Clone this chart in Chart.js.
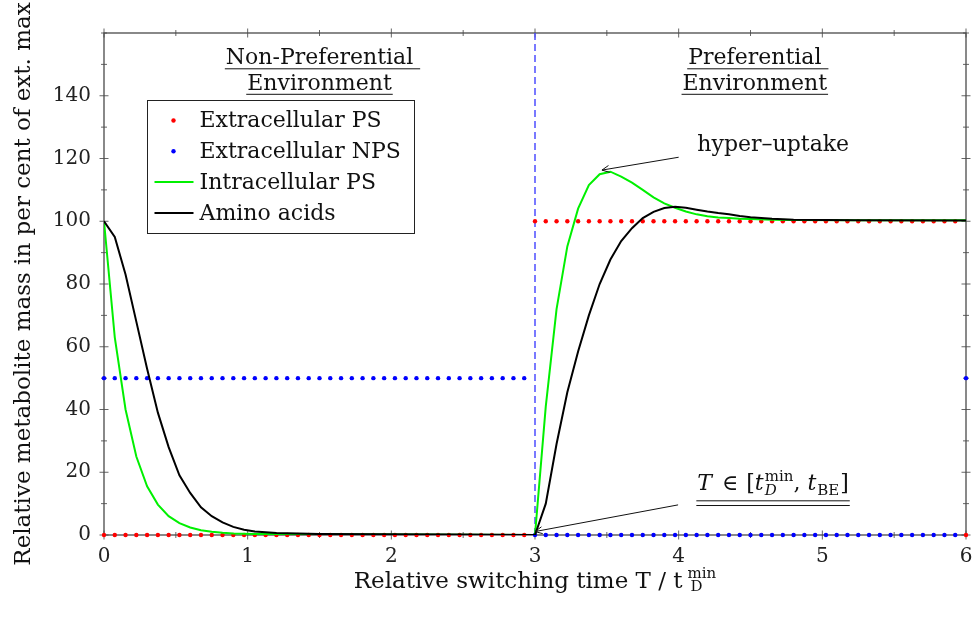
<!DOCTYPE html>
<html>
<head>
<meta charset="utf-8">
<script src="https://cdn.jsdelivr.net/npm/chart.js@4.4.1/dist/chart.umd.min.js"></script>
<style>
  html, body { margin: 0; padding: 0; background: #fff; }
</style>
</head>
<body>
<canvas id="myChart" width="976" height="623"></canvas>
<script>
const FONT = '"DejaVu Serif", serif';

// switching times and the extracellular levels held from each of them on
const switchTimes = [0, 3, 6];
const extPS = [0, 100, 0];
const extNPS = [50, 0, 50];
const markStep = 0.075;

// simulated intracellular pools
const time = [0, 0.075, 0.15, 0.225, 0.3, 0.375, 0.45, 0.525, 0.6, 0.675, 0.75, 0.825, 0.9, 0.975, 1.05, 1.2, 1.5, 2, 2.5, 3,
  3.075, 3.15, 3.225, 3.3, 3.375, 3.45, 3.525, 3.6, 3.675, 3.75, 3.825, 3.9, 3.975, 4.05, 4.125, 4.2, 4.275, 4.35, 4.425, 4.5, 4.65, 4.8, 5.25, 6];
const intracellularPS = [100, 63, 40, 25, 15.5, 9.7, 6, 3.8, 2.4, 1.5, 1.0, 0.7, 0.5, 0.4, 0.35, 0.3, 0.2, 0.15, 0.1, 0,
  41, 72, 92, 104, 111.5, 115, 115.8, 114.2, 112.3, 110, 107.6, 105.7, 104.3, 103.1, 102.2, 101.6, 101.2, 101, 100.8, 100.7, 100.5, 100.4, 100.3, 100.3];
const aminoAcids = [100, 95, 83, 68, 53, 39, 28, 19, 13.4, 8.8, 6.0, 4.0, 2.6, 1.7, 1.1, 0.6, 0.3, 0.2, 0.15, 0,
  10, 29, 45.5, 58.5, 70, 80, 87.8, 93.7, 97.8, 101, 103, 104.2, 104.6, 104.3, 103.7, 103.1, 102.6, 102.2, 101.7, 101.3, 100.8, 100.5, 100.3, 100.2];

const xLabels = [0, 1, 2, 3, 4, 5, 6];
const yLabels = [0, 20, 40, 60, 80, 100, 120, 140];
const yMax = 160;

const heldLevel = (levels) => {
  const pts = [];
  switchTimes.forEach((t0, i) => {
    const t1 = switchTimes[i + 1];
    if (t1 === undefined) {
      pts.push({ x: t0, y: levels[i] });
      return;
    }
    for (let k = 0; t0 + k * markStep < t1 - 1e-9; k++) {
      pts.push({ x: t0 + k * markStep, y: levels[i] });
    }
  });
  return pts;
};
const series = (vals) => time.map((t, i) => ({ x: t, y: vals[i] }));

const arrow = (ctx, x0, y0, x1, y1) => {
  ctx.beginPath();
  ctx.moveTo(x0, y0);
  ctx.lineTo(x1, y1);
  const a = Math.atan2(y1 - y0, x1 - x0);
  [0.45, -0.45].forEach(d => {
    ctx.moveTo(x1, y1);
    ctx.lineTo(x1 - 8 * Math.cos(a + d), y1 - 8 * Math.sin(a + d));
  });
  ctx.stroke();
};

const decorations = {
  id: 'decorations',
  beforeDatasetsDraw(chart) {
    const { ctx, chartArea: ca, scales: { x, y } } = chart;
    ctx.save();
    ctx.strokeStyle = '#666';
    ctx.lineWidth = 1;
    ctx.beginPath();
    x.ticks.forEach(t => {
      const px = x.getPixelForValue(t.value);
      const h = t.label !== '' ? 4.5 : 3;
      ctx.moveTo(px, ca.bottom - h); ctx.lineTo(px, ca.bottom + h);
      ctx.moveTo(px, ca.top - h); ctx.lineTo(px, ca.top + h);
    });
    y.ticks.forEach(t => {
      const py = y.getPixelForValue(t.value);
      const h = t.label !== '' ? 4.5 : 3;
      ctx.moveTo(ca.left - h, py); ctx.lineTo(ca.left + h, py);
      ctx.moveTo(ca.right - h, py); ctx.lineTo(ca.right + h, py);
    });
    ctx.stroke();
    ctx.strokeStyle = '#4a4a4a';
    ctx.lineWidth = 1.3;
    ctx.strokeRect(ca.left, ca.top, ca.right - ca.left, ca.bottom - ca.top);
    ctx.restore();
  },
  afterDatasetsDraw(chart) {
    const { ctx, chartArea: ca, scales: { x, y } } = chart;
    ctx.save();
    ctx.fillStyle = '#111';
    ctx.strokeStyle = '#111';
    ctx.textBaseline = 'alphabetic';

    // environment headings
    ctx.font = '22px ' + FONT;
    ctx.textAlign = 'center';
    ctx.lineWidth = 1;
    const heading = (lines, xv) => {
      const cx = x.getPixelForValue(xv);
      lines.forEach((s, i) => {
        const by = ca.top + 31 + i * 25.5;
        ctx.fillText(s.trim(), cx, by);
        const w = ctx.measureText(s.trim()).width + (s.endsWith(' ') ? 6 : 0);
        const lx = cx - ctx.measureText(s.trim()).width / 2 - 1;
        ctx.beginPath();
        ctx.moveTo(lx, by + 4.8);
        ctx.lineTo(lx + w + 2, by + 4.8);
        ctx.stroke();
      });
    };
    heading(['Non-Preferential ', 'Environment'], 1.5);
    heading(['Preferential ', 'Environment'], 4.53);

    // legend box
    const lx = ca.left + 43.5, ly = ca.top + 67.5;
    ctx.fillStyle = '#fff';
    ctx.fillRect(lx, ly, 267, 133);
    ctx.strokeStyle = '#222';
    ctx.lineWidth = 1;
    ctx.strokeRect(lx, ly, 267, 133);
    const entries = chart.data.datasets.filter(d => d.label);
    ctx.textAlign = 'left';
    ctx.textBaseline = 'middle';
    entries.forEach((d, i) => {
      const ry = ly + 20 + i * 30.8;
      if (d.showLine === false) {
        ctx.fillStyle = d.pointBackgroundColor;
        ctx.beginPath();
        ctx.arc(lx + 26, ry, 2.2, 0, Math.PI * 2);
        ctx.fill();
      } else {
        ctx.strokeStyle = d.borderColor;
        ctx.lineWidth = d.borderWidth;
        ctx.beginPath();
        ctx.moveTo(lx + 7, ry);
        ctx.lineTo(lx + 46, ry);
        ctx.stroke();
      }
      ctx.fillStyle = '#111';
      ctx.fillText(d.label, lx + 52, ry + 1);
    });

    // hyper-uptake note
    ctx.textBaseline = 'alphabetic';
    ctx.strokeStyle = '#111';
    ctx.lineWidth = 1;
    const tx = x.getPixelForValue(4.13);
    ctx.fillText('hyper\u2013uptake', tx, y.getPixelForValue(122.5));
    arrow(ctx, x.getPixelForValue(4.0), y.getPixelForValue(120.4), x.getPixelForValue(3.466), y.getPixelForValue(116.3));

    // switching window note
    let cx = tx;
    const base = y.getPixelForValue(14.4);
    const put = (s, font, dy) => {
      ctx.font = font;
      ctx.fillText(s, cx, base + dy);
      return ctx.measureText(s).width;
    };
    const big = '22px ' + FONT, bigIt = 'italic 22px ' + FONT;
    const small = '15px ' + FONT, smallIt = 'italic 15px ' + FONT;
    cx += put('T', bigIt, 0) + 3;
    cx += put(' \u2208 ', big, 0) + 1;
    cx += put('[', big, 0);
    cx += put('t', bigIt, 0) + 1;
    const wMin = put('min', small, -9);
    const wD = put('D', smallIt, 5);
    cx += Math.max(wMin, wD);
    cx += put(', ', big, 0);
    cx += put('t', bigIt, 0) + 1;
    cx += put('BE', small, 5) + 1;
    cx += put(']', big, 0);
    ctx.lineWidth = 1;
    [11, 15.7].forEach(o => {
      ctx.beginPath();
      ctx.moveTo(tx - 1, base + o);
      ctx.lineTo(cx + 1, base + o);
      ctx.stroke();
    });
    arrow(ctx, x.getPixelForValue(3.996), y.getPixelForValue(9.6), x.getPixelForValue(3.0), y.getPixelForValue(1.1));

    // axis titles
    const titleFont = '23px ' + FONT;
    ctx.font = titleFont;
    const main = 'Relative switching time T / t';
    const wMain = ctx.measureText(main).width;
    ctx.font = small;
    const wSup = ctx.measureText('min').width;
    const total = wMain + 5 + wSup;
    let ax = (ca.left + ca.right) / 2 - total / 2;
    const ab = ca.bottom + 53;
    ctx.font = titleFont;
    ctx.fillText(main, ax, ab);
    ax += wMain + 5;
    ctx.font = small;
    ctx.fillText('min', ax, ab - 10);
    ctx.fillText('D', ax + 3, ab + 3);

    ctx.translate(30, (ca.top + ca.bottom) / 2);
    ctx.rotate(-Math.PI / 2);
    ctx.textAlign = 'center';
    ctx.font = '23px ' + FONT;
    ctx.fillText('Relative metabolite mass in per cent of ext. max', 0, 0);
    ctx.restore();
  }
};

const ctx = document.getElementById('myChart').getContext('2d');
const chart = new Chart(ctx, {
  type: 'scatter',
  data: {
    datasets: [
      {
        label: 'Extracellular PS',
        data: heldLevel(extPS),
        showLine: false,
        pointRadius: 2.2,
        pointBorderWidth: 0,
        pointBackgroundColor: '#ff0000',
        clip: false,
        order: 4
      },
      {
        label: 'Extracellular NPS',
        data: heldLevel(extNPS),
        showLine: false,
        pointRadius: 2.2,
        pointBorderWidth: 0,
        pointBackgroundColor: '#0000ff',
        clip: false,
        order: 3
      },
      {
        label: 'Intracellular PS',
        data: series(intracellularPS),
        showLine: true,
        borderColor: '#00f000',
        borderWidth: 2,
        pointRadius: 0,
        tension: 0,
        order: 2
      },
      {
        label: 'Amino acids',
        data: series(aminoAcids),
        showLine: true,
        borderColor: '#000000',
        borderWidth: 2,
        pointRadius: 0,
        tension: 0,
        order: 1
      },
      {
        // switch to the preferential environment
        data: [{ x: switchTimes[1], y: 0 }, { x: switchTimes[1], y: yMax }],
        showLine: true,
        borderColor: '#4d4dff',
        borderWidth: 1.5,
        borderDash: [7, 4],
        pointRadius: 0,
        order: 5
      }
    ]
  },
  options: {
    responsive: false,
    animation: false,
    devicePixelRatio: 1,
    layout: { padding: { left: 0, right: 10, top: 33, bottom: 0 } },
    plugins: { legend: { display: false }, tooltip: { enabled: false } },
    scales: {
      x: {
        type: 'linear',
        min: 0,
        max: 6,
        grid: { display: false, drawTicks: false },
        border: { display: false },
        ticks: {
          stepSize: 0.5,
          autoSkip: false,
          maxRotation: 0,
          padding: 10,
          color: '#222',
          font: { family: FONT, size: 20 },
          callback: v => xLabels.includes(v) ? String(v) : ''
        },
        afterFit: s => {
          s.height = 88;
          s.paddingLeft = 0;
          s.paddingRight = 0;
        }
      },
      y: {
        min: 0,
        max: yMax,
        grid: { display: false, drawTicks: false },
        border: { display: false },
        ticks: {
          stepSize: 10,
          autoSkip: false,
          padding: 13,
          color: '#222',
          font: { family: FONT, size: 20 },
          callback: v => yLabels.includes(v) ? String(v) : ''
        },
        afterFit: s => {
          s.width = 104;
          s.paddingTop = 0;
          s.paddingBottom = 0;
        }
      }
    }
  },
  plugins: [decorations]
});
</script>
</body>
</html>
